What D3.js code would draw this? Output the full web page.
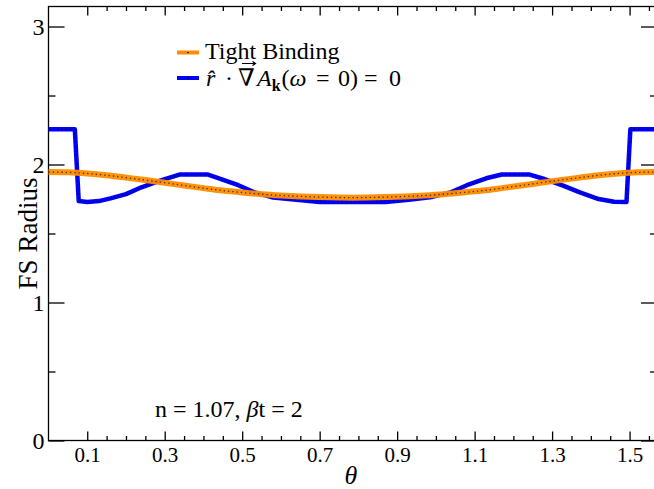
<!DOCTYPE html>
<html>
<head>
<meta charset="utf-8">
<script src="https://cdn.jsdelivr.net/npm/d3@7"></script>
<style>
  body { margin: 0; background: #fff; }
  svg text { font-family: "Liberation Serif", "DejaVu Serif", serif; fill: #000; }
</style>
</head>
<body>
<svg id="chart" width="654" height="489"></svg>
<script>
// tight binding Fermi surface radius vs angle
const tbTheta = [0, 0.05, 0.1, 0.15, 0.2, 0.25, 0.3, 0.35, 0.4, 0.45, 0.5, 0.55, 0.6, 0.65, 0.7, 0.75, 0.7854,
                 0.8208, 0.8708, 0.9208, 0.9708, 1.0208, 1.0708, 1.1208, 1.1708, 1.2208, 1.2708, 1.3208, 1.3708, 1.4208, 1.4708, 1.5208, 1.5708];
const tbR     = [1.945, 1.943, 1.935, 1.922, 1.905, 1.887, 1.868, 1.848, 1.829, 1.811, 1.797, 1.785, 1.776, 1.769, 1.764, 1.761, 1.760,
                 1.761, 1.764, 1.769, 1.776, 1.785, 1.797, 1.811, 1.829, 1.848, 1.868, 1.887, 1.905, 1.922, 1.935, 1.943, 1.945];

// r . grad A_k(w=0) = 0 contour
const gradTheta = [0, 0.068, 0.078, 0.10, 0.13, 0.16, 0.20, 0.24, 0.29, 0.34, 0.41, 0.44, 0.49, 0.53, 0.58, 0.64, 0.70,
                   0.87, 0.93, 0.99, 1.04, 1.08, 1.13, 1.17, 1.24, 1.28, 1.33, 1.37, 1.42, 1.46, 1.492, 1.502, 1.5708];
const gradR     = [2.255, 2.255, 1.735, 1.728, 1.735, 1.755, 1.785, 1.835, 1.885, 1.928, 1.928, 1.900, 1.850, 1.800, 1.760, 1.745, 1.728,
                   1.728, 1.745, 1.765, 1.800, 1.850, 1.900, 1.928, 1.928, 1.895, 1.845, 1.800, 1.750, 1.730, 1.728, 2.255, 2.255];

const xMajor = [0.1, 0.3, 0.5, 0.7, 0.9, 1.1, 1.3, 1.5];
const xMinor = [0.15, 0.2, 0.25, 0.35, 0.4, 0.45, 0.55, 0.6, 0.65, 0.75, 0.8, 0.85, 0.95, 1.0, 1.05, 1.15, 1.2, 1.25, 1.35, 1.4, 1.45, 1.55];
const yMajor = [0, 1, 2, 3];
const yMinor = [0.5, 1.5, 2.5];

const svg = d3.select("#chart");
const mLeft = 48.5, mRight = 657, mTop = 6.5, mBottom = 440.5;

const x = d3.scaleLinear().domain([0, Math.PI / 2]).range([mLeft, mRight]);
const y = d3.scaleLinear().domain([0, 3.145]).range([mBottom, mTop]);

// frame
svg.append("rect")
  .attr("x", mLeft).attr("y", mTop)
  .attr("width", mRight - mLeft).attr("height", mBottom - mTop)
  .attr("fill", "none").attr("stroke", "#000").attr("stroke-width", 1.3);

function styleAxis(g) {
  g.select(".domain").remove();
  g.selectAll("line").attr("stroke", "#000").attr("stroke-width", 1.3);
}

// bottom axis, inward ticks
svg.append("g").attr("transform", `translate(0,${mBottom})`)
  .call(d3.axisBottom(x).tickValues(xMajor).tickSize(-9).tickPadding(7).tickFormat(d3.format(".1f")))
  .call(styleAxis)
  .call(g => g.selectAll("text").attr("font-size", 21));
svg.append("g").attr("transform", `translate(0,${mBottom})`)
  .call(d3.axisBottom(x).tickValues(xMinor).tickSize(-4.5).tickFormat(""))
  .call(styleAxis);
// top mirror ticks
svg.append("g").attr("transform", `translate(0,${mTop})`)
  .call(d3.axisTop(x).tickValues(xMajor).tickSize(-9).tickFormat(""))
  .call(styleAxis);
svg.append("g").attr("transform", `translate(0,${mTop})`)
  .call(d3.axisTop(x).tickValues(xMinor).tickSize(-4.5).tickFormat(""))
  .call(styleAxis);

// left axis
svg.append("g").attr("transform", `translate(${mLeft},0)`)
  .call(d3.axisLeft(y).tickValues(yMajor).tickSize(-16).tickPadding(4).tickFormat(d3.format("d")))
  .call(styleAxis)
  .call(g => g.selectAll("text").attr("font-size", 24));
svg.append("g").attr("transform", `translate(${mLeft},0)`)
  .call(d3.axisLeft(y).tickValues(yMinor).tickSize(-7).tickFormat(""))
  .call(styleAxis);
// right mirror ticks
svg.append("g").attr("transform", `translate(${mRight},0)`)
  .call(d3.axisRight(y).tickValues(yMajor).tickSize(-16).tickFormat(""))
  .call(styleAxis);
svg.append("g").attr("transform", `translate(${mRight},0)`)
  .call(d3.axisRight(y).tickValues(yMinor).tickSize(-7).tickFormat(""))
  .call(styleAxis);

// axis titles
svg.append("text")
  .attr("transform", `translate(37,${y(1.5)}) rotate(-90)`)
  .attr("text-anchor", "middle").attr("font-size", 27)
  .text("FS Radius");
svg.append("text")
  .attr("x", 351).attr("y", 484)
  .attr("text-anchor", "middle").attr("font-size", 26).attr("font-style", "italic")
  .text("θ");

// data lines
const tb = tbTheta.map((t, i) => [t, tbR[i]]);
const grad = gradTheta.map((t, i) => [t, gradR[i]]);

const smooth = d3.line().x(d => x(d[0])).y(d => y(d[1])).curve(d3.curveMonotoneX);
const straight = d3.line().x(d => x(d[0])).y(d => y(d[1]));

const plot = svg.append("g");
plot.append("path").datum(grad).attr("d", straight)
  .attr("fill", "none").attr("stroke", "#0000ff").attr("stroke-width", 4.5)
  .attr("stroke-linejoin", "round");
plot.append("path").datum(grad).attr("d", straight)
  .attr("fill", "none").attr("stroke", "#000").attr("stroke-width", 1.2)
  .attr("stroke-dasharray", "1.3 3").attr("opacity", 0.6);
plot.append("path").datum(tb).attr("d", smooth)
  .attr("fill", "none").attr("stroke", "#ff8c00").attr("stroke-width", 6)
  .attr("opacity", 0.95);
plot.append("path").datum(tb).attr("d", smooth)
  .attr("fill", "none").attr("stroke", "#000").attr("stroke-width", 1.3)
  .attr("stroke-dasharray", "1.3 3").attr("opacity", 0.7);

// legend
const legend = svg.append("g");
legend.append("line").attr("x1", 177).attr("x2", 199).attr("y1", 52.5).attr("y2", 52.5)
  .attr("stroke", "#ff8c00").attr("stroke-width", 4);
legend.append("circle").attr("cx", 188).attr("cy", 52.5).attr("r", 0.8).attr("fill", "#000");
legend.append("text").attr("x", 205).attr("y", 59).attr("font-size", 24).text("Tight Binding");

legend.append("line").attr("x1", 177).attr("x2", 199).attr("y1", 78).attr("y2", 78)
  .attr("stroke", "#0000ff").attr("stroke-width", 4);
legend.append("circle").attr("cx", 188).attr("cy", 78).attr("r", 0.8).attr("fill", "#000");
const lt = legend.append("text").attr("y", 86).attr("font-size", 24);
lt.append("tspan").attr("x", 206).attr("font-style", "italic").text("r\u0302");
lt.append("tspan").attr("x", 225).text("\u00b7");
lt.append("tspan").attr("x", 238).text("\u2207");
lt.append("tspan").attr("x", 257).attr("font-style", "italic").text("A");
lt.append("tspan").attr("font-weight", "bold").attr("font-size", 16).attr("dy", 5).text("k");
lt.append("tspan").attr("dy", -5).attr("dx", 1).text("(");
lt.append("tspan").attr("font-style", "italic").text("\u03c9");
lt.append("tspan").attr("x", 316).text("=");
lt.append("tspan").attr("x", 338).text("0)");
lt.append("tspan").attr("x", 364).text("=");
lt.append("tspan").attr("x", 389).text("0");
// vector arrow above the nabla
legend.append("path")
  .attr("d", "M242,63.5H255M252.5,61.5L255.5,63.5L252.5,65.5")
  .attr("fill", "none").attr("stroke", "#000").attr("stroke-width", 1.2);

// annotation
const ann = svg.append("text").attr("x", 155).attr("y", 417).attr("font-size", 24);
ann.append("tspan").text("n = 1.07, ");
ann.append("tspan").attr("font-style", "italic").text("\u03b2");
ann.append("tspan").text("t = 2");
</script>
</body>
</html>
